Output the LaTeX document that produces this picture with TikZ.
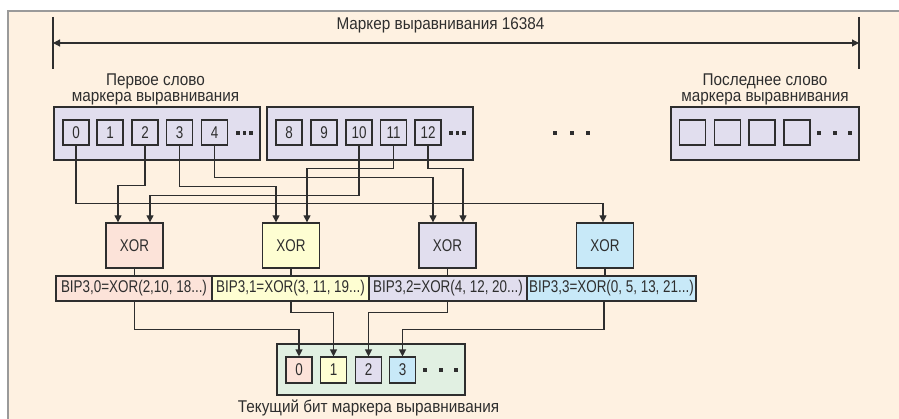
\documentclass[tikz,border=0pt]{standalone}
\usepackage{fontspec}
\setmainfont{Liberation Sans}[FakeStretch=0.79]
\newfontfamily\lblfont{Liberation Sans}[FakeStretch=0.9]
\usetikzlibrary{arrows.meta,calc}
\definecolor{bg}{HTML}{FEF1E1}
\definecolor{frm}{HTML}{9A9A9A}
\definecolor{dk}{HTML}{2E2E2E}
\definecolor{lav}{HTML}{E1DEEE}
\definecolor{pk}{HTML}{FCE3D9}
\definecolor{yl}{HTML}{FEFED2}
\definecolor{bl}{HTML}{C8E9F8}
\definecolor{gr}{HTML}{E1F0E2}
\tikzset{
  txt/.style={font=\fontsize{17}{16}\selectfont, text=dk},
  blk/.style={draw=dk, line width=1.3pt, fill=lav, inner sep=0pt, minimum height=53pt},
  bit/.style={txt, draw=dk, line width=1.1pt, inner sep=0pt, minimum width=26pt, minimum height=25pt},
  xorbox/.style={txt, draw=dk, line width=1.3pt, inner sep=0pt, minimum width=57pt, minimum height=45pt},
  bipbox/.style={txt, draw=dk, line width=1.1pt, inner sep=0pt, minimum height=25pt},
  wire/.style={draw=dk, line width=1.1pt},
  arr/.style={wire, -{Triangle[length=7pt,width=7pt]}},
  dot/.style={fill=dk, minimum size=3.5pt, inner sep=0pt},
  lbl/.style={font=\lblfont\fontsize{17}{15.5}\selectfont, text=dk, align=center, inner sep=0pt}
}
\begin{document}
\begin{tikzpicture}[x=1pt,y=-1pt]
\useasboundingbox (0,0) rectangle (899,419);
\clip (0,0) rectangle (899,419);
\fill[white] (0,0) rectangle (899,419);
\draw[frm, line width=2pt, fill=bg] (8,11) rectangle (910,430);

% dimension line
\coordinate (tl) at (53,17);
\coordinate (tr) at (859,17);
\draw[wire] (tl) -- ++(0,52);
\draw[wire] (tr) -- ++(0,52);
\draw[wire, {Triangle[length=7pt,width=7pt]}-{Triangle[length=7pt,width=7pt]}] ($(tl)+(0,26)$) -- ($(tr)+(0,26)$);
\node[lbl] (title) at (440.5,25) {Маркер выравнивания 16384};

\node[lbl] (first) at (155.5,89.5) {Первое слово\\маркера выравнивания};
\node[lbl] (last) at (765,89.5) {Последнее слово\\маркера выравнивания};

% word blocks
\node[blk, minimum width=206pt] (blk1) at (157,133.5) {};
\node[blk, minimum width=206pt] (blk2) at (370,133.5) {};
\node[blk, minimum width=188pt] (blk3) at (765,133.5) {};

\foreach \n/\x in {0/76,1/110,2/145,3/179.5,4/214.5,8/289,9/324,10/359,11/393.5,12/428}
  \node[bit] (b\n) at (\x,132.5) {\n};
\foreach \n/\x in {1/692.5,2/727.5,3/762,4/797}
  \node[bit] (e\n) at (\x,132.5) {};
\foreach \i/\x in {1/238,2/244.5,3/251,4/451,5/457.5,6/464,7/555,8/572,9/588,10/819,11/835,12/850}
  \node[dot] (d\i) at (\x,133) {};

% XOR boxes
\node[xorbox, fill=pk] (x1) at (134.5,245.5) {XOR};
\node[xorbox, fill=yl] (x2) at (291,245.5) {XOR};
\node[xorbox, fill=lav] (x3) at (447.5,245.5) {XOR};
\node[xorbox, fill=bl] (x4) at (605,245.5) {XOR};

% BIP boxes
\node[bipbox, fill=pk, minimum width=156pt] (p1) at (134,288.5) {BIP3,0=XOR(2,10, 18...)};
\node[bipbox, fill=yl, minimum width=157pt] (p2) at (290.5,288.5) {BIP3,1=XOR(3, 11, 19...)};
\node[bipbox, fill=lav, minimum width=158pt] (p3) at (448,288.5) {BIP3,2=XOR(4, 12, 20...)};
\node[bipbox, fill=bl, minimum width=169pt] (p4) at (611.5,288.5) {BIP3,3=XOR(0, 5, 13, 21...)};

% connectors from words to XOR
\draw[arr] (b2.south) |- ($(x1.north)+(-16.5,-37)$) -- ($(x1.north)+(-16.5,0)$);
\draw[arr] (b10.south) |- ($(x1.north)+(15.5,-27)$) -- ($(x1.north)+(15.5,0)$);
\draw[arr] (b3.south) |- ($(x2.north)+(-15,-36)$) -- ($(x2.north)+(-15,0)$);
\draw[arr] (b11.south) |- ($(x2.north)+(16,-54)$) -- ($(x2.north)+(16,0)$);
\draw[arr] (b4.south) |- ($(x3.north)+(-14.5,-45)$) -- ($(x3.north)+(-14.5,0)$);
\draw[arr] (b12.south) |- ($(x3.north)+(15.5,-54)$) -- ($(x3.north)+(15.5,0)$);
\draw[arr] (b0.south) |- ($(x4.north)+(-2,-19)$) -- ($(x4.north)+(-2,0)$);

% XOR to BIP
\draw[wire] (x1.south) -- (x1.south |- p1.north);
\draw[wire] (x2.south) -- (x2.south |- p2.north);
\draw[wire] (x3.south) -- (x3.south |- p3.north);
\draw[wire] (x4.south) -- (x4.south |- p4.north);

% current bits
\node[draw=dk, line width=1.3pt, fill=gr, minimum width=188pt, minimum height=51pt, inner sep=0pt] (cur) at (371,369.5) {};
\node[bit, fill=pk, minimum height=26pt] (c0) at (299,370) {0};
\node[bit, fill=yl, minimum height=26pt] (c1) at (333.5,370) {1};
\node[bit, fill=lav, minimum height=26pt] (c2) at (368.5,370) {2};
\node[bit, fill=bl, minimum height=26pt] (c3) at (402.5,370) {3};
\foreach \i/\x in {13/425,14/441,15/456}
  \node[dot] (d\i) at (\x,370) {};
\node[lbl] (curlbl) at (368.5,408) {Текущий бит маркера выравнивания};

% BIP to current bits
\draw[arr] (x1.south |- p1.south) |- ($(c0.north)+(0,-27)$) -- (c0.north);
\draw[arr] (x2.south |- p2.south) |- ($(c1.north)+(0,-44)$) -- (c1.north);
\draw[arr] (x3.south |- p3.south) |- ($(c2.north)+(0,-44)$) -- (c2.north);
\draw[arr] ($(x4.south |- p4.south)+(-1,0)$) |- ($(c3.north)+(0,-27)$) -- (c3.north);
\end{tikzpicture}
\end{document}
